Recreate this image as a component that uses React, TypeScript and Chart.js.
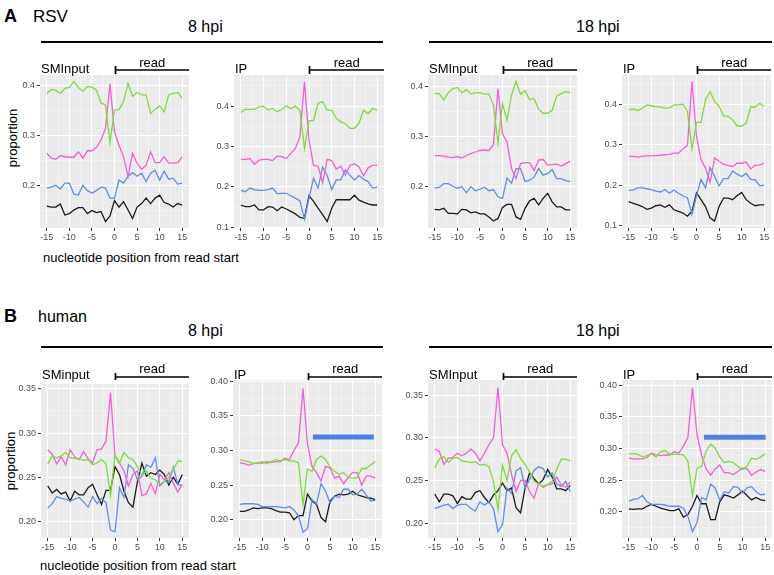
import React, { useEffect, useRef } from "react";
import { Chart, registerables } from "chart.js";

Chart.register(...registerables);

const FONT = "'Liberation Sans', Arial, Helvetica, sans-serif";

// ---------------- data ----------------
const positions = [-15, -14, -13, -12, -11, -10, -9, -8, -7, -6, -5, -4, -3, -2, -1, 0, 1, 2, 3, 4, 5, 6, 7, 8, 9, 10, 11, 12, 13, 14, 15];
const xMajorTicks = [-15, -10, -5, 0, 5, 10, 15];
const xMinorTicks = [-12.5, -7.5, -2.5, 2.5, 7.5, 12.5];

// A: RSV, 8 hpi, SMInput
const rsv8SmGreen = [0.385, 0.393, 0.391, 0.385, 0.395, 0.397, 0.409, 0.397, 0.389, 0.399, 0.397, 0.392, 0.366, 0.362, 0.286, 0.352, 0.352, 0.369, 0.405, 0.379, 0.387, 0.382, 0.382, 0.345, 0.353, 0.36, 0.348, 0.382, 0.385, 0.387, 0.375];
const rsv8SmPink = [0.265, 0.255, 0.253, 0.26, 0.258, 0.257, 0.257, 0.268, 0.255, 0.27, 0.27, 0.277, 0.291, 0.315, 0.404, 0.308, 0.281, 0.258, 0.218, 0.265, 0.245, 0.233, 0.241, 0.268, 0.246, 0.246, 0.258, 0.245, 0.245, 0.246, 0.258];
const rsv8SmBlue = [0.195, 0.197, 0.201, 0.193, 0.205, 0.205, 0.183, 0.181, 0.201, 0.19, 0.185, 0.19, 0.197, 0.195, 0.175, 0.175, 0.211, 0.205, 0.219, 0.226, 0.219, 0.225, 0.208, 0.225, 0.231, 0.211, 0.229, 0.213, 0.215, 0.203, 0.205];
const rsv8SmBlack = [0.159, 0.157, 0.157, 0.163, 0.141, 0.144, 0.151, 0.156, 0.156, 0.144, 0.15, 0.146, 0.148, 0.128, 0.139, 0.17, 0.157, 0.168, 0.151, 0.134, 0.157, 0.164, 0.175, 0.164, 0.175, 0.181, 0.166, 0.163, 0.157, 0.164, 0.161];

// A: RSV, 8 hpi, IP
const rsv8IpGreen = [0.384, 0.392, 0.392, 0.392, 0.398, 0.4, 0.39, 0.394, 0.386, 0.392, 0.4, 0.394, 0.4, 0.389, 0.295, 0.364, 0.364, 0.407, 0.411, 0.39, 0.39, 0.37, 0.361, 0.357, 0.345, 0.345, 0.357, 0.39, 0.381, 0.394, 0.39];
const rsv8IpPink = [0.268, 0.268, 0.27, 0.256, 0.266, 0.268, 0.268, 0.265, 0.276, 0.275, 0.27, 0.283, 0.295, 0.324, 0.46, 0.316, 0.253, 0.251, 0.21, 0.268, 0.265, 0.244, 0.251, 0.229, 0.253, 0.257, 0.249, 0.227, 0.247, 0.253, 0.253];
const rsv8IpBlue = [0.191, 0.188, 0.197, 0.193, 0.191, 0.191, 0.193, 0.197, 0.183, 0.184, 0.184, 0.178, 0.172, 0.165, 0.12, 0.172, 0.221, 0.197, 0.249, 0.228, 0.193, 0.217, 0.217, 0.242, 0.229, 0.217, 0.228, 0.219, 0.213, 0.197, 0.199];
const rsv8IpBlack = [0.155, 0.151, 0.151, 0.155, 0.143, 0.143, 0.151, 0.15, 0.141, 0.15, 0.145, 0.139, 0.133, 0.124, 0.122, 0.178, 0.164, 0.147, 0.131, 0.114, 0.147, 0.168, 0.168, 0.168, 0.168, 0.179, 0.167, 0.162, 0.158, 0.155, 0.155];

// A: RSV, 18 hpi, SMInput
const rsv18SmGreen = [0.385, 0.385, 0.372, 0.387, 0.395, 0.397, 0.387, 0.393, 0.384, 0.387, 0.387, 0.384, 0.384, 0.362, 0.287, 0.365, 0.332, 0.382, 0.409, 0.384, 0.391, 0.373, 0.375, 0.354, 0.346, 0.346, 0.352, 0.38, 0.385, 0.389, 0.387];
const rsv18SmPink = [0.262, 0.262, 0.261, 0.259, 0.258, 0.26, 0.257, 0.262, 0.266, 0.269, 0.272, 0.273, 0.272, 0.284, 0.395, 0.305, 0.289, 0.236, 0.216, 0.246, 0.248, 0.248, 0.232, 0.253, 0.254, 0.243, 0.244, 0.245, 0.241, 0.246, 0.251];
const rsv18SmBlue = [0.197, 0.199, 0.206, 0.206, 0.201, 0.197, 0.2, 0.188, 0.2, 0.192, 0.195, 0.199, 0.192, 0.194, 0.18, 0.177, 0.217, 0.207, 0.236, 0.236, 0.21, 0.213, 0.219, 0.236, 0.223, 0.226, 0.234, 0.216, 0.216, 0.212, 0.21];
const rsv18SmBlack = [0.155, 0.154, 0.157, 0.147, 0.147, 0.146, 0.155, 0.154, 0.148, 0.15, 0.146, 0.146, 0.14, 0.132, 0.137, 0.159, 0.165, 0.165, 0.14, 0.135, 0.157, 0.172, 0.177, 0.164, 0.177, 0.187, 0.17, 0.16, 0.16, 0.154, 0.154];

// A: RSV, 18 hpi, IP
const rsv18IpGreen = [0.386, 0.388, 0.384, 0.39, 0.398, 0.396, 0.394, 0.393, 0.39, 0.39, 0.398, 0.398, 0.4, 0.382, 0.289, 0.355, 0.355, 0.411, 0.431, 0.407, 0.394, 0.371, 0.37, 0.361, 0.346, 0.346, 0.353, 0.393, 0.393, 0.402, 0.394];
const rsv18IpPink = [0.271, 0.271, 0.269, 0.271, 0.272, 0.272, 0.273, 0.274, 0.275, 0.276, 0.279, 0.279, 0.289, 0.298, 0.456, 0.321, 0.263, 0.242, 0.207, 0.267, 0.259, 0.251, 0.249, 0.246, 0.254, 0.254, 0.257, 0.24, 0.249, 0.25, 0.254];
const rsv18IpBlue = [0.187, 0.188, 0.193, 0.193, 0.191, 0.189, 0.185, 0.183, 0.189, 0.18, 0.188, 0.18, 0.173, 0.169, 0.127, 0.174, 0.214, 0.193, 0.243, 0.222, 0.198, 0.216, 0.216, 0.235, 0.227, 0.221, 0.229, 0.214, 0.213, 0.198, 0.2];
const rsv18IpBlack = [0.159, 0.155, 0.151, 0.147, 0.14, 0.143, 0.149, 0.151, 0.145, 0.151, 0.139, 0.135, 0.131, 0.123, 0.135, 0.181, 0.164, 0.147, 0.119, 0.111, 0.147, 0.168, 0.168, 0.164, 0.174, 0.182, 0.164, 0.155, 0.149, 0.151, 0.151];

// B: human, 8 hpi, SMinput
const hum8SmGreen = [0.265, 0.274, 0.272, 0.274, 0.278, 0.272, 0.271, 0.271, 0.269, 0.27, 0.264, 0.266, 0.27, 0.265, 0.229, 0.275, 0.266, 0.278, 0.272, 0.27, 0.262, 0.252, 0.257, 0.249, 0.247, 0.242, 0.245, 0.25, 0.259, 0.268, 0.268];
const hum8SmPink = [0.281, 0.276, 0.265, 0.273, 0.264, 0.281, 0.273, 0.27, 0.279, 0.271, 0.266, 0.281, 0.282, 0.291, 0.346, 0.274, 0.266, 0.257, 0.24, 0.253, 0.257, 0.229, 0.231, 0.243, 0.231, 0.253, 0.247, 0.255, 0.243, 0.233, 0.242];
const hum8SmBlue = [0.215, 0.22, 0.228, 0.226, 0.225, 0.223, 0.225, 0.227, 0.222, 0.216, 0.228, 0.22, 0.226, 0.221, 0.19, 0.188, 0.238, 0.227, 0.264, 0.26, 0.247, 0.251, 0.264, 0.261, 0.272, 0.24, 0.245, 0.245, 0.261, 0.242, 0.24];
const hum8SmBlack = [0.24, 0.232, 0.236, 0.231, 0.233, 0.223, 0.234, 0.23, 0.23, 0.238, 0.242, 0.23, 0.219, 0.235, 0.235, 0.262, 0.253, 0.234, 0.221, 0.216, 0.245, 0.266, 0.251, 0.255, 0.253, 0.258, 0.253, 0.241, 0.25, 0.242, 0.253];

// B: human, 8 hpi, IP
const hum8IpGreen = [0.287, 0.285, 0.284, 0.281, 0.282, 0.284, 0.281, 0.284, 0.287, 0.285, 0.287, 0.285, 0.285, 0.282, 0.222, 0.273, 0.27, 0.287, 0.292, 0.287, 0.276, 0.27, 0.266, 0.268, 0.261, 0.26, 0.261, 0.274, 0.274, 0.279, 0.284];
const hum8IpPink = [0.282, 0.281, 0.279, 0.281, 0.282, 0.282, 0.284, 0.283, 0.284, 0.284, 0.289, 0.287, 0.3, 0.311, 0.39, 0.309, 0.277, 0.268, 0.256, 0.277, 0.275, 0.26, 0.263, 0.252, 0.261, 0.268, 0.268, 0.25, 0.263, 0.263, 0.26];
const hum8IpBlue = [0.222, 0.223, 0.223, 0.223, 0.222, 0.219, 0.219, 0.219, 0.219, 0.218, 0.217, 0.219, 0.214, 0.206, 0.182, 0.187, 0.229, 0.223, 0.252, 0.241, 0.224, 0.234, 0.232, 0.244, 0.244, 0.236, 0.237, 0.244, 0.236, 0.227, 0.228];
const hum8IpBlack = [0.212, 0.212, 0.214, 0.217, 0.216, 0.217, 0.217, 0.216, 0.213, 0.211, 0.211, 0.21, 0.2, 0.206, 0.206, 0.237, 0.227, 0.222, 0.203, 0.197, 0.227, 0.234, 0.237, 0.236, 0.237, 0.241, 0.236, 0.234, 0.232, 0.231, 0.229];

// B: human, 18 hpi, SMInput
const hum18SmGreen = [0.265, 0.275, 0.278, 0.271, 0.276, 0.277, 0.273, 0.272, 0.271, 0.272, 0.268, 0.269, 0.266, 0.249, 0.216, 0.268, 0.25, 0.279, 0.286, 0.276, 0.269, 0.26, 0.249, 0.246, 0.243, 0.245, 0.249, 0.263, 0.275, 0.275, 0.273];
const hum18SmPink = [0.287, 0.284, 0.269, 0.276, 0.277, 0.282, 0.279, 0.282, 0.287, 0.282, 0.273, 0.282, 0.292, 0.3, 0.359, 0.292, 0.282, 0.257, 0.237, 0.25, 0.25, 0.237, 0.229, 0.247, 0.242, 0.245, 0.246, 0.254, 0.245, 0.242, 0.248];
const hum18SmBlue = [0.217, 0.219, 0.221, 0.222, 0.217, 0.221, 0.222, 0.222, 0.217, 0.214, 0.225, 0.221, 0.225, 0.217, 0.19, 0.198, 0.241, 0.235, 0.261, 0.265, 0.241, 0.251, 0.262, 0.266, 0.264, 0.254, 0.259, 0.246, 0.243, 0.249, 0.237];
const hum18SmBlack = [0.234, 0.225, 0.234, 0.234, 0.232, 0.223, 0.231, 0.228, 0.228, 0.236, 0.238, 0.23, 0.224, 0.233, 0.238, 0.247, 0.238, 0.241, 0.218, 0.212, 0.241, 0.259, 0.252, 0.246, 0.251, 0.263, 0.254, 0.24, 0.24, 0.238, 0.244];

// B: human, 18 hpi, IP
const hum18IpGreen = [0.292, 0.292, 0.291, 0.287, 0.289, 0.292, 0.287, 0.295, 0.297, 0.291, 0.291, 0.291, 0.29, 0.28, 0.226, 0.269, 0.272, 0.296, 0.307, 0.301, 0.287, 0.278, 0.28, 0.278, 0.272, 0.267, 0.272, 0.285, 0.283, 0.287, 0.292];
const hum18IpPink = [0.285, 0.284, 0.284, 0.284, 0.286, 0.293, 0.29, 0.289, 0.29, 0.29, 0.295, 0.293, 0.304, 0.318, 0.396, 0.322, 0.29, 0.268, 0.258, 0.268, 0.274, 0.262, 0.262, 0.259, 0.264, 0.269, 0.268, 0.258, 0.263, 0.267, 0.264];
const hum18IpBlue = [0.217, 0.22, 0.221, 0.226, 0.216, 0.212, 0.212, 0.212, 0.211, 0.209, 0.209, 0.209, 0.206, 0.193, 0.169, 0.183, 0.223, 0.219, 0.244, 0.238, 0.219, 0.232, 0.23, 0.24, 0.239, 0.23, 0.238, 0.24, 0.232, 0.227, 0.228];
const hum18IpBlack = [0.205, 0.204, 0.205, 0.205, 0.209, 0.212, 0.209, 0.206, 0.204, 0.202, 0.202, 0.205, 0.192, 0.196, 0.209, 0.226, 0.213, 0.213, 0.188, 0.188, 0.216, 0.227, 0.225, 0.222, 0.227, 0.233, 0.226, 0.219, 0.223, 0.219, 0.218];

// highlighted region bars (IP, human)
const hum8IpBarX = [1.2, 14.7];
const hum8IpBarY = [0.3195, 0.3195];
const hum18IpBarX = [1.55, 15.1];
const hum18IpBarY = [0.318, 0.318];

// y tick sets
const yTicksRsvMajor = [0.1, 0.2, 0.3, 0.4];
const yTicksRsvMinor = [0.15, 0.25, 0.35, 0.45];
const yTicksHumMajor = [0.2, 0.25, 0.3, 0.35, 0.4];
const yTicksHumMinor = [0.175, 0.225, 0.275, 0.325, 0.375];

const seriesColors = ["#7CDC3A", "#F25FD6", "#5E8FE6", "#1A1A1A"];
const barColor = "#4F80E6";

// ---------------- layout ----------------
type Box = { l: number; r: number; t: number; b: number };
type PanelDef = {
  title: string;
  series: number[][];
  yMin: number;
  yMax: number;
  yMajor: number[];
  yMinor: number[];
  digits: number;
  box: Box;
  head: { y: number; titleDy: number; readDy: number; bracketDy: number; tickTop: number; tickBot: number };
  barX?: number[];
  barY?: number[];
};

const headA = { y: 75, titleDy: -2, readDy: -8, bracketDy: -5, tickTop: -9, tickBot: -1 };
const headB = { y: 380, titleDy: -1, readDy: -7, bracketDy: -3, tickTop: -7, tickBot: 0 };

const panels: PanelDef[] = [
  { title: "SMInput", series: [rsv8SmGreen, rsv8SmPink, rsv8SmBlue, rsv8SmBlack], yMin: 0.115, yMax: 0.422, yMajor: yTicksRsvMajor, yMinor: yTicksRsvMinor, digits: 1, box: { l: 40, r: 189, t: 75, b: 228 }, head: headA },
  { title: "IP", series: [rsv8IpGreen, rsv8IpPink, rsv8IpBlue, rsv8IpBlack], yMin: 0.098, yMax: 0.477, yMajor: yTicksRsvMajor, yMinor: yTicksRsvMinor, digits: 1, box: { l: 234, r: 384, t: 75, b: 228 }, head: headA },
  { title: "SMInput", series: [rsv18SmGreen, rsv18SmPink, rsv18SmBlue, rsv18SmBlack], yMin: 0.118, yMax: 0.422, yMajor: yTicksRsvMajor, yMinor: yTicksRsvMinor, digits: 1, box: { l: 428, r: 577, t: 75, b: 228 }, head: headA },
  { title: "IP", series: [rsv18IpGreen, rsv18IpPink, rsv18IpBlue, rsv18IpBlack], yMin: 0.094, yMax: 0.472, yMajor: yTicksRsvMajor, yMinor: yTicksRsvMinor, digits: 1, box: { l: 622, r: 771, t: 75, b: 228 }, head: headA },
  { title: "SMinput", series: [hum8SmGreen, hum8SmPink, hum8SmBlue, hum8SmBlack], yMin: 0.181, yMax: 0.3556, yMajor: yTicksHumMajor, yMinor: yTicksHumMinor, digits: 2, box: { l: 41, r: 189, t: 384, b: 538 }, head: headB },
  { title: "IP", series: [hum8IpGreen, hum8IpPink, hum8IpBlue, hum8IpBlack], yMin: 0.1735, yMax: 0.402, yMajor: yTicksHumMajor, yMinor: yTicksHumMinor, digits: 2, box: { l: 233, r: 382, t: 380, b: 538 }, head: headB, barX: hum8IpBarX, barY: hum8IpBarY },
  { title: "SMInput", series: [hum18SmGreen, hum18SmPink, hum18SmBlue, hum18SmBlack], yMin: 0.1824, yMax: 0.368, yMajor: yTicksHumMajor, yMinor: yTicksHumMinor, digits: 2, box: { l: 428, r: 577, t: 380, b: 538 }, head: headB },
  { title: "IP", series: [hum18IpGreen, hum18IpPink, hum18IpBlue, hum18IpBlack], yMin: 0.1589, yMax: 0.4084, yMajor: yTicksHumMajor, yMinor: yTicksHumMinor, digits: 2, box: { l: 622, r: 772, t: 380, b: 538 }, head: headB, barX: hum18IpBarX, barY: hum18IpBarY },
];

const YW = 32; // y axis width
const XH = 14; // x axis height
const TOPPAD = 24; // room for header above panel
const RPAD = 3;

const near = (list: number[], v: number) => list.some((t) => Math.abs(t - v) < 1e-6);

const panelDecor = {
  id: "panelDecor",
  beforeDraw(chart: any) {
    const { ctx, chartArea } = chart;
    ctx.save();
    ctx.fillStyle = "#EBEBEB";
    ctx.fillRect(chartArea.left, chartArea.top, chartArea.right - chartArea.left, chartArea.bottom - chartArea.top);
    ctx.restore();
  },
  afterDraw(chart: any, _args: any, opts: any) {
    const { ctx, chartArea } = chart;
    const hy = opts.headY;
    const h = opts.head;
    ctx.save();
    ctx.fillStyle = "#000";
    ctx.font = `13px ${FONT}`;
    ctx.textBaseline = "alphabetic";
    ctx.textAlign = "left";
    ctx.fillText(opts.title, chartArea.left + 1, hy + h.titleDy);
    const x0 = Math.round(chart.scales.x.getPixelForValue(0)) + 0.5;
    const x1 = chartArea.right;
    ctx.strokeStyle = "#000";
    ctx.lineWidth = 1.7;
    ctx.beginPath();
    ctx.moveTo(x0, hy + h.bracketDy);
    ctx.lineTo(x1, hy + h.bracketDy);
    ctx.moveTo(x0, hy + h.tickTop);
    ctx.lineTo(x0, hy + h.tickBot);
    ctx.stroke();
    ctx.textAlign = "center";
    ctx.fillText("read", (x0 + x1) / 2, hy + h.readDy);
    ctx.restore();
  },
};

function Panel({ def }: { def: PanelDef }) {
  const ref = useRef<HTMLCanvasElement>(null);
  const w = YW + (def.box.r - def.box.l) + RPAD;
  const h = TOPPAD + (def.box.b - def.box.t) + XH;
  const left = def.box.l - YW;
  const top = def.box.t - TOPPAD;

  useEffect(() => {
    if (!ref.current) return;
    const datasets: any[] = def.series.map((vals, si) => ({
      data: positions.map((x, i) => ({ x, y: vals[i] })),
      borderColor: seriesColors[si],
      backgroundColor: seriesColors[si],
      borderWidth: 1.3,
      pointRadius: 0,
      tension: 0,
      fill: false,
    }));
    if (def.barX && def.barY) {
      datasets.push({
        data: def.barX.map((x, i) => ({ x, y: def.barY![i] })),
        borderColor: barColor,
        backgroundColor: barColor,
        borderWidth: 5,
        borderCapStyle: "butt",
        pointRadius: 0,
        fill: false,
      });
    }
    const xAll = [...xMajorTicks, ...xMinorTicks].sort((a, b) => a - b);
    const yAll = [...def.yMajor, ...def.yMinor].filter((v) => v >= def.yMin && v <= def.yMax).sort((a, b) => a - b);

    const chart = new Chart(ref.current, {
      type: "line",
      data: { datasets },
      plugins: [panelDecor],
      options: {
        responsive: false,
        animation: false,
        devicePixelRatio: 1,
        events: [],
        layout: { padding: { top: TOPPAD, right: RPAD, left: 0, bottom: 0 } },
        plugins: {
          legend: { display: false },
          tooltip: { enabled: false },
          title: { display: false },
          panelDecor: { title: def.title, head: def.head, headY: def.head.y - top },
        } as any,
        scales: {
          x: {
            type: "linear",
            min: -16.5,
            max: 16.5,
            afterBuildTicks: (s: any) => {
              s.ticks = xAll.map((v) => ({ value: v }));
            },
            afterFit: (s: any) => {
              s.height = XH;
            },
            ticks: {
              autoSkip: false,
              maxRotation: 0,
              padding: 1,
              color: "#4D4D4D",
              font: { family: FONT, size: 9 },
              callback: (v: any) => (near(xMajorTicks, Number(v)) ? String(v) : ""),
            },
            grid: {
              color: (c: any) => (near(xMajorTicks, c.tick?.value) ? "#FFFFFF" : "rgba(255,255,255,0.6)"),
              lineWidth: (c: any) => (near(xMajorTicks, c.tick?.value) ? 1 : 0.6),
              tickLength: 3,
              tickColor: (c: any) => (near(xMajorTicks, c.tick?.value) ? "#333333" : "rgba(0,0,0,0)"),
              drawTicks: true,
            },
            border: { display: false },
          },
          y: {
            type: "linear",
            min: def.yMin,
            max: def.yMax,
            afterBuildTicks: (s: any) => {
              s.ticks = yAll.map((v) => ({ value: v }));
            },
            afterFit: (s: any) => {
              s.width = YW;
            },
            ticks: {
              autoSkip: false,
              padding: 2,
              color: "#4D4D4D",
              font: { family: FONT, size: 9 },
              callback: (v: any) => (near(def.yMajor, Number(v)) ? Number(v).toFixed(def.digits) : ""),
            },
            grid: {
              color: (c: any) => (near(def.yMajor, c.tick?.value) ? "#FFFFFF" : "rgba(255,255,255,0.6)"),
              lineWidth: (c: any) => (near(def.yMajor, c.tick?.value) ? 1 : 0.6),
              tickLength: 3,
              tickColor: (c: any) => (near(def.yMajor, c.tick?.value) ? "#333333" : "rgba(0,0,0,0)"),
              drawTicks: true,
            },
            border: { display: false },
          },
        },
      } as any,
    });
    return () => chart.destroy();
  }, []);

  return (
    <canvas
      ref={ref}
      width={w}
      height={h}
      style={{ position: "absolute", left, top, width: w, height: h }}
    />
  );
}

function Txt({ x, base, size, bold, children }: { x: number; base: number; size: number; bold?: boolean; children: React.ReactNode }) {
  return (
    <div
      style={{
        position: "absolute",
        left: x,
        top: base - 0.8465 * size,
        fontSize: size,
        lineHeight: `${size}px`,
        fontFamily: FONT,
        fontWeight: bold ? 700 : 400,
        whiteSpace: "nowrap",
        color: "#000",
      }}
    >
      {children}
    </div>
  );
}

function HLine({ x1, x2, y }: { x1: number; x2: number; y: number }) {
  return <div style={{ position: "absolute", left: x1, top: y - 1, width: x2 - x1, height: 2, background: "#000" }} />;
}

function VText({ cx, cy, size, children }: { cx: number; cy: number; size: number; children: React.ReactNode }) {
  return (
    <div
      style={{
        position: "absolute",
        left: cx,
        top: cy,
        transform: "translate(-50%, -50%) rotate(-90deg)",
        fontSize: size,
        lineHeight: `${size}px`,
        fontFamily: FONT,
        whiteSpace: "nowrap",
        color: "#000",
      }}
    >
      {children}
    </div>
  );
}

export default function App() {
  return (
    <div style={{ position: "fixed", left: 0, top: 0, width: 774, height: 575, background: "#fff", overflow: "hidden" }}>
      {/* Section A */}
      <Txt x={4} base={22} size={18} bold>A</Txt>
      <Txt x={33} base={22} size={17}>RSV</Txt>
      <Txt x={188} base={33} size={16}>8 hpi</Txt>
      <HLine x1={41} x2={383} y={42} />
      <Txt x={576} base={33} size={16}>18 hpi</Txt>
      <HLine x1={429} x2={772} y={42} />
      <VText cx={11.5} cy={138} size={13}>proportion</VText>
      <Txt x={43} base={262} size={13}>nucleotide position from read start</Txt>

      {/* Section B */}
      <Txt x={4} base={322} size={18} bold>B</Txt>
      <Txt x={38} base={323} size={16}>human</Txt>
      <Txt x={188} base={337} size={16}>8 hpi</Txt>
      <HLine x1={41} x2={383} y={347} />
      <Txt x={576} base={337} size={16}>18 hpi</Txt>
      <HLine x1={429} x2={772} y={347} />
      <VText cx={10} cy={461} size={13}>proportion</VText>
      <Txt x={40} base={570} size={13}>nucleotide position from read start</Txt>

      {panels.map((p, i) => (
        <Panel key={i} def={p} />
      ))}
    </div>
  );
}
